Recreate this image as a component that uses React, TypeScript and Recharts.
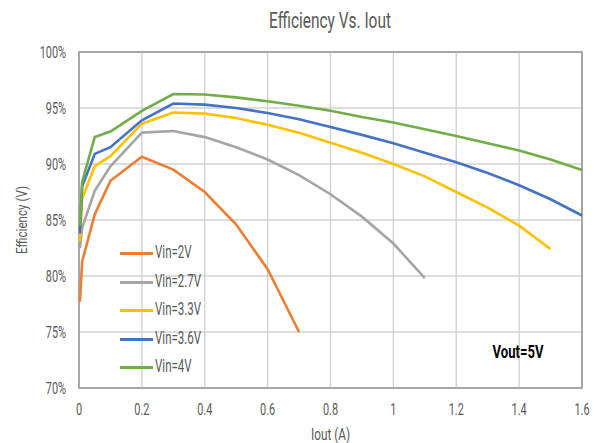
import React from 'react';
import { LineChart, Line, XAxis, YAxis, CartesianGrid, Legend, ReferenceArea } from 'recharts';

const IOUT = [0.003, 0.01, 0.05, 0.1, 0.2, 0.3, 0.4, 0.5, 0.6, 0.7, 0.8, 0.9, 1.0, 1.1, 1.2, 1.3, 1.4, 1.5, 1.6];
const VIN_2V = [77.7, 81.3, 85.5, 88.5, 90.65, 89.5, 87.5, 84.6, 80.6, 75.0];
const VIN_2_7V = [82.5, 84.3, 87.6, 89.8, 92.8, 92.95, 92.4, 91.5, 90.4, 89.0, 87.3, 85.3, 82.9, 79.8];
const VIN_3_3V = [83.1, 86.9, 89.8, 90.7, 93.6, 94.6, 94.5, 94.1, 93.5, 92.8, 91.9, 91.0, 90.0, 88.9, 87.5, 86.1, 84.5, 82.4];
const VIN_3_6V = [83.8, 88.0, 90.9, 91.5, 93.9, 95.4, 95.3, 95.0, 94.55, 94.0, 93.3, 92.6, 91.85, 91.0, 90.15, 89.2, 88.1, 86.85, 85.4];
const VIN_4V = [84.5, 88.4, 92.4, 92.9, 94.75, 96.25, 96.2, 95.95, 95.6, 95.2, 94.75, 94.2, 93.7, 93.1, 92.5, 91.85, 91.2, 90.4, 89.46];

const SERIES_NAMES = ['Vin=2V', 'Vin=2.7V', 'Vin=3.3V', 'Vin=3.6V', 'Vin=4V'];
const SERIES_VALUES = [VIN_2V, VIN_2_7V, VIN_3_3V, VIN_3_6V, VIN_4V];
const SERIES_COLORS = ['#ED7D31', '#A5A5A5', '#FFC000', '#4472C4', '#70AD47'];

const X_TICKS = [0, 0.2, 0.4, 0.6, 0.8, 1, 1.2, 1.4, 1.6];
const Y_TICKS = [70, 75, 80, 85, 90, 95, 100];
const X_MINOR = Array.from({ length: 33 }, (_, i) => Math.round(i * 5) / 100);
const Y_MINOR = Array.from({ length: 31 }, (_, i) => 70 + i);

const FONT = 'Roboto, "DejaVu Sans", sans-serif';
const TEXT_COLOR = '#595959';
const SQUEEZE = 0.64;

const toPoints = (vals: number[]) => vals.map((v, i) => ({ x: IOUT[i], y: v }));

const XTick = (props: any) => {
  const { x, y, payload } = props;
  return (
    <text x={x / SQUEEZE} y={y} dy="0.71em" transform={`scale(${SQUEEZE},1)`} textAnchor="middle"
      fill={TEXT_COLOR} fontSize={17} fontFamily={FONT}>
      {String(payload.value)}
    </text>
  );
};

const YTick = (props: any) => {
  const { x, y, payload } = props;
  return (
    <text x={x / SQUEEZE} y={y} dy="0.36em" transform={`scale(${SQUEEZE},1)`} textAnchor="end"
      fill={TEXT_COLOR} fontSize={17} fontFamily={FONT}>
      {`${payload.value}%`}
    </text>
  );
};

const renderLegend = (props: any) => {
  const payload = [...(props.payload || [])].sort(
    (a: any, b: any) => SERIES_NAMES.indexOf(a.value) - SERIES_NAMES.indexOf(b.value)
  );
  return (
    <div>
      {payload.map((e: any) => (
        <div key={e.value} style={{ position: 'relative', height: 28.5 }}>
          <span style={{ position: 'absolute', left: 0, top: 13, width: 33, height: 3, background: e.color }} />
          <span style={{ position: 'absolute', left: 35, top: 2, fontSize: 18, lineHeight: '22px', color: TEXT_COLOR,
            fontFamily: FONT, whiteSpace: 'nowrap', transform: `scale(${SQUEEZE},1)`, transformOrigin: '0 0' }}>{e.value}</span>
        </div>
      ))}
    </div>
  );
};

const YLabel = (props: any) => {
  const vb = props.viewBox || { x: 0, y: 52, width: 79, height: 336 };
  const cx = 22;
  const cy = vb.y + vb.height / 2;
  return (
    <text x={cx} y={cy} transform={`rotate(-90, ${cx}, ${cy})`} textAnchor="middle" dominantBaseline="central"
      textLength={68} lengthAdjust="spacingAndGlyphs" fill={TEXT_COLOR} fontSize={14} fontFamily={FONT}>
      Efficiency (V)
    </text>
  );
};

const XLabel = (props: any) => {
  const vb = props.viewBox || { x: 79, y: 388, width: 503, height: 55 };
  const cx = vb.x + vb.width / 2;
  return (
    <text x={cx} y={440} textAnchor="middle" textLength={39} lengthAdjust="spacingAndGlyphs"
      fill={TEXT_COLOR} fontSize={16} fontFamily={FONT}>
      Iout (A)
    </text>
  );
};

export default function App() {
  return (
    <div style={{ position: 'absolute', left: 0, top: 0, width: 596, height: 443, background: '#ffffff', overflow: 'hidden' }}>
      <LineChart width={596} height={443} margin={{ top: 52, right: 14, bottom: 0, left: 0 }}>
        <XAxis xAxisId="minor" type="number" dataKey="x" domain={[0, 1.6]} ticks={X_MINOR} hide />
        <YAxis yAxisId="minor" type="number" domain={[70, 100]} ticks={Y_MINOR} hide />
        <CartesianGrid xAxisId="minor" yAxisId="minor" stroke="#e6e6e6" strokeWidth={1} />
        <CartesianGrid stroke="#d2d2d2" strokeWidth={1.4} />
        <XAxis type="number" dataKey="x" domain={[0, 1.6]} ticks={X_TICKS} height={55}
          axisLine={false} tickLine={false} tickMargin={9} tick={<XTick />}
          label={{ content: (p: any) => <XLabel {...p} /> }} />
        <YAxis type="number" domain={[70, 100]} ticks={Y_TICKS} width={79}
          axisLine={false} tickLine={false} tickMargin={7} tick={<YTick />}
          label={{ content: (p: any) => <YLabel {...p} /> }} />
        <ReferenceArea x1={0} x2={1.6} y1={70} y2={100} fill="none" stroke="#a6a6a6" strokeWidth={2} ifOverflow="visible" />
        {SERIES_VALUES.map((vals, i) => (
          <Line key={SERIES_NAMES[i]} name={SERIES_NAMES[i]} data={toPoints(vals)} dataKey="y" type="linear"
            stroke={SERIES_COLORS[i]} strokeWidth={2.6} dot={false} activeDot={false} isAnimationActive={false} />
        ))}
        <Legend layout="vertical" align="center" verticalAlign="middle" content={renderLegend}
          wrapperStyle={{ position: 'absolute', left: 120, top: 239, width: 100, height: 145 }} />
      </LineChart>
      <svg width={596} height={443} style={{ position: 'absolute', left: 0, top: 0, pointerEvents: 'none' }}>
        <text x={330} y={28} textAnchor="middle" textLength={122} lengthAdjust="spacingAndGlyphs"
          fill={TEXT_COLOR} fontSize={22} fontFamily={FONT}>Efficiency Vs. Iout</text>
        <text x={518} y={358} textAnchor="middle" textLength={51} lengthAdjust="spacingAndGlyphs"
          fill="#000000" fontSize={19} fontWeight="bold" fontFamily={FONT}>Vout=5V</text>
      </svg>
    </div>
  );
}
